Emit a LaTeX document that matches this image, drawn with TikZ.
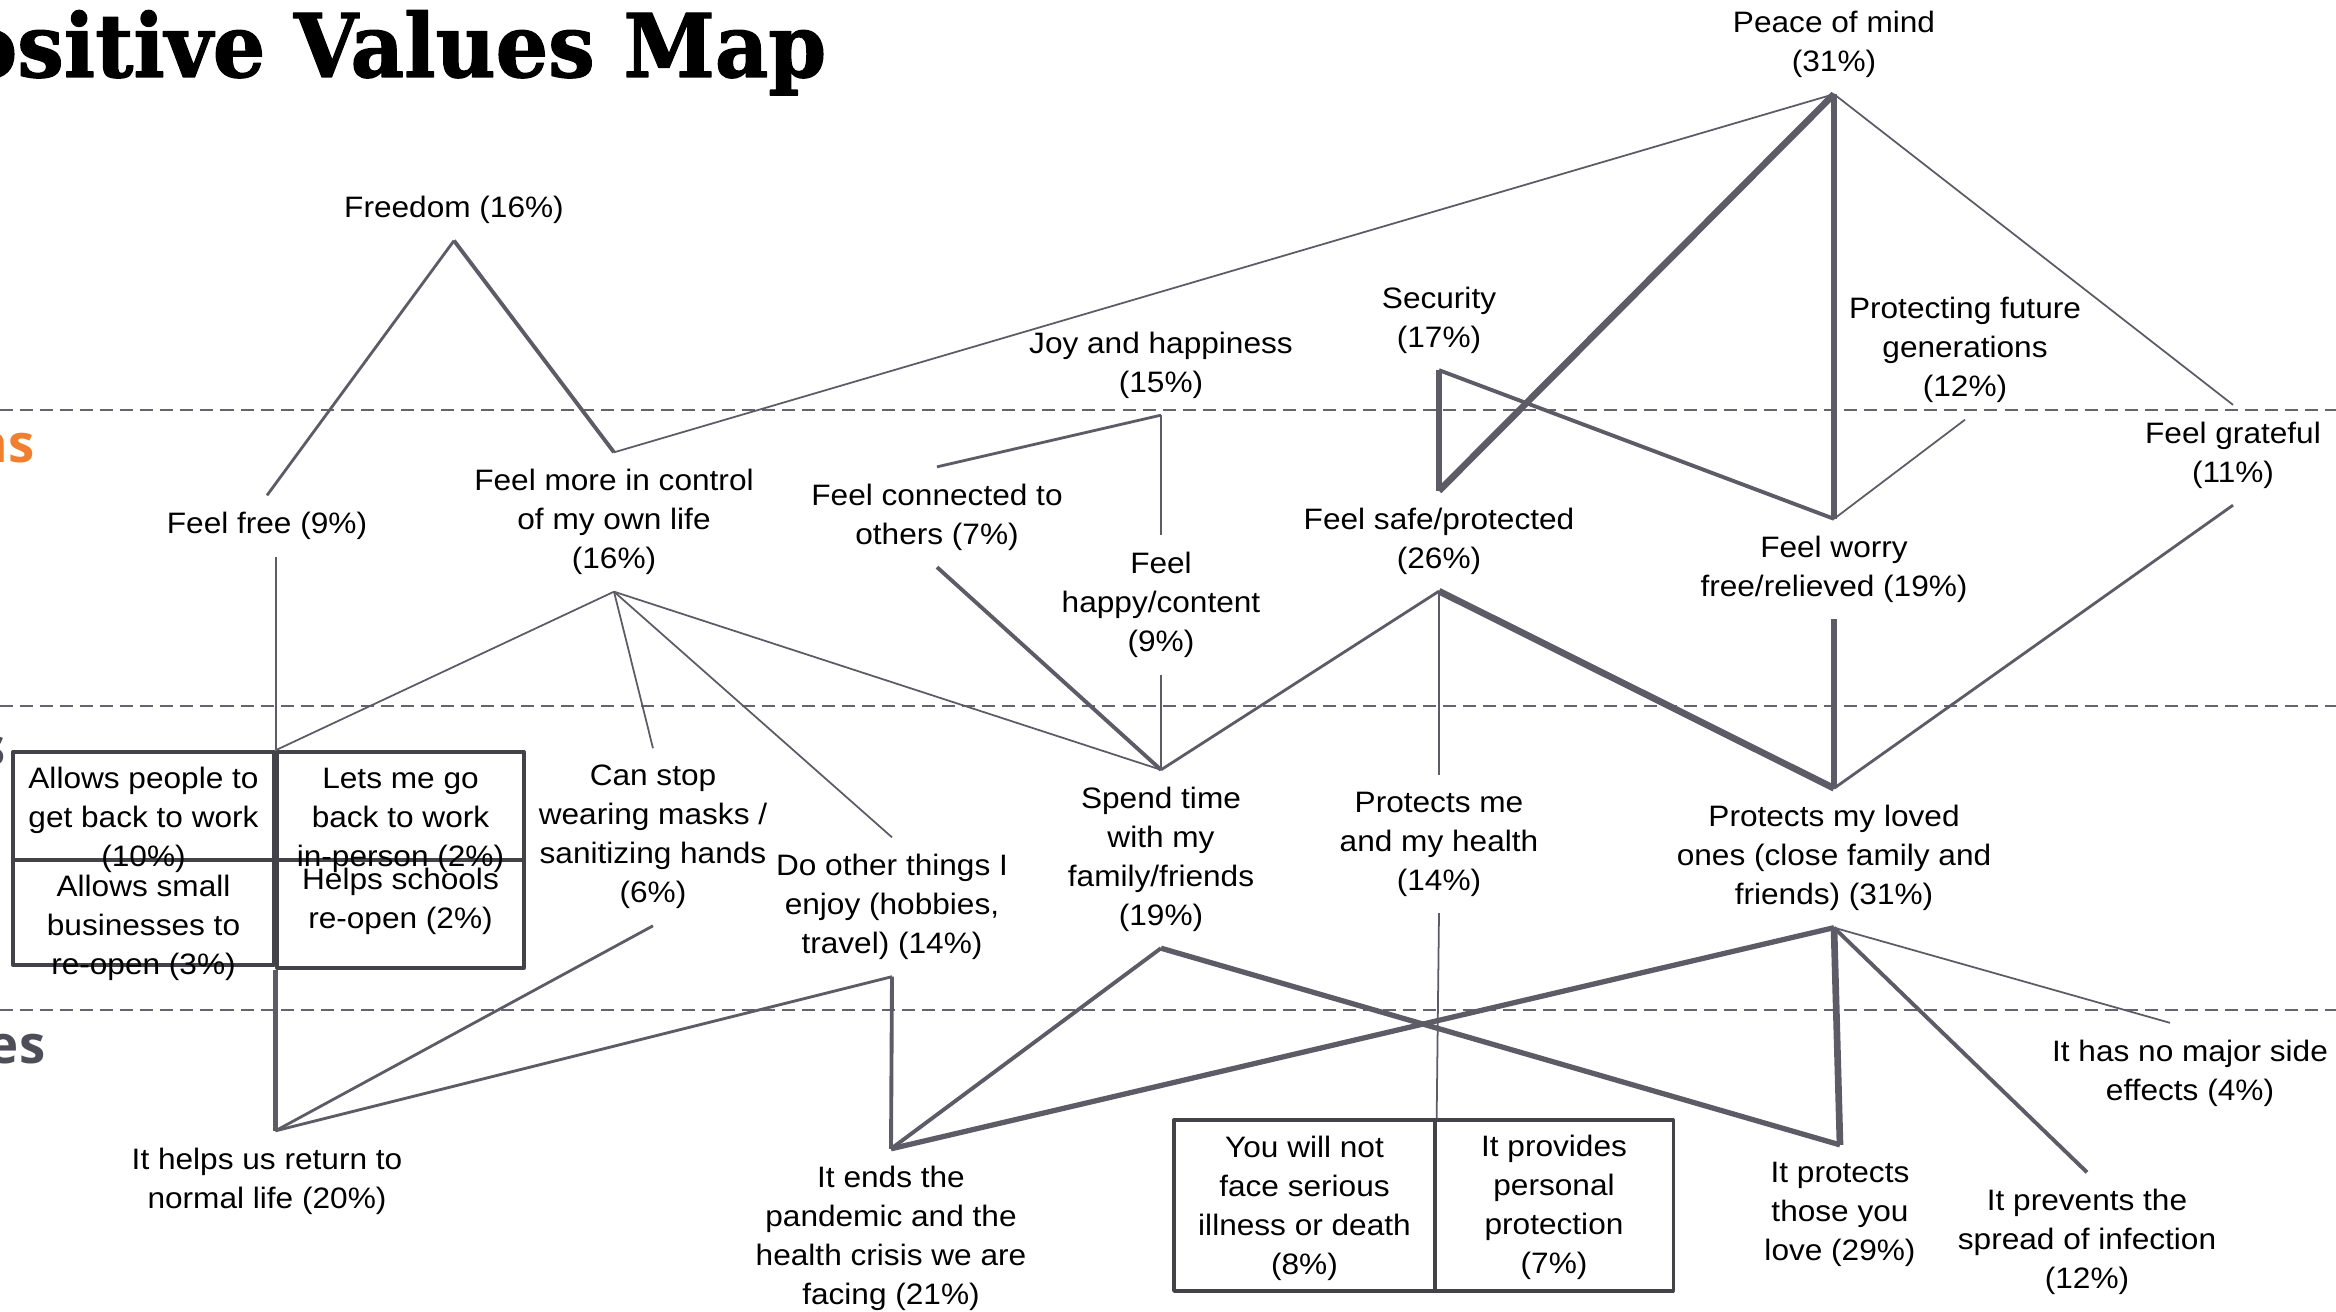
\documentclass[tikz,border=0pt]{standalone}
\usepackage{fontspec}
\setmainfont{Liberation Sans}[FakeStretch=1.07]
\newfontfamily\titlefont{DejaVu Serif}[FakeStretch=0.94,FakeBold=1.4]
\newfontfamily\sidefont{Open Sans}
\usetikzlibrary{calc}
\definecolor{edgegrey}{RGB}{92,91,102}
\definecolor{boxgrey}{RGB}{66,66,72}
\definecolor{dashgrey}{RGB}{100,100,110}
\definecolor{sideorange}{RGB}{240,128,48}
\definecolor{sidegrey}{RGB}{78,78,88}

\begin{document}
\begin{tikzpicture}[x=0.01cm,y=-0.01cm,
  lbl/.style={align=center,inner xsep=1pt,inner ysep=4.6pt,
    font=\fontsize{8.4pt}{11.1pt}\selectfont},
  abox/.style={draw=boxgrey,line width=0.9pt,fill=white,inner sep=0pt},
  side/.style={anchor=base east,inner sep=0pt,
    font=\sidefont\bfseries\fontsize{15pt}{17pt}\selectfont},
  w1/.style={draw=edgegrey,line width=0.5pt},
  w2/.style={draw=edgegrey,line width=0.8pt},
  w3/.style={draw=edgegrey,line width=1.1pt},
  w4/.style={draw=edgegrey,line width=1.5pt},
  w5/.style={draw=edgegrey,line width=1.9pt},
  line join=round]
  \useasboundingbox (0,0) rectangle (2336,1312);
  \foreach \yy in {410,706,1010}
    \draw[dashgrey,line width=0.55pt,dash pattern=on 3.7pt off 2pt](0,\yy)--(2336,\yy);

  \node[anchor=base east,inner sep=0pt,
    font=\titlefont\bfseries\fontsize{25pt}{30pt}\selectfont]
    (title) at (827,77) {Positive Values Map};
  \node[side,text=sideorange] (sidetop) at (35,462) {ns};
  \node[side,text=sidegrey] (sidemid) at (6,765) {s};
  \node[side,text=sidegrey] (sidebot) at (46,1063) {es};

  % values
  \node[lbl] (peace) at (1834,44) {Peace of mind\\(31\%)};
  \node[lbl] (freedom) at (454,210) {Freedom (16\%)};
  \node[lbl] (security) at (1439,320) {Security\\(17\%)};
  \node[lbl] (joy) at (1161,365) {Joy and happiness\\(15\%)};
  \node[lbl] (future) at (1965,350) {Protecting future\\generations\\(12\%)};
  % emotional consequences
  \node[lbl] (grateful) at (2233,455) {Feel grateful\\(11\%)};
  \node[lbl] (ffree) at (267,526) {Feel free (9\%)};
  \node[lbl] (fcontrol) at (614,522) {Feel more in control\\of my own life\\(16\%)};
  \node[lbl] (fconnect) at (937,517) {Feel connected to\\others (7\%)};
  \node[lbl] (fhappy) at (1161,605) {Feel\\happy/content\\(9\%)};
  \node[lbl] (fsafe) at (1439,541) {Feel safe/protected\\(26\%)};
  \node[lbl] (fworry) at (1834,569) {Feel worry\\free/relieved (19\%)};
  % functional consequences
  \node[abox,minimum width=2.61cm,minimum height=1.08cm] (a1) at (143.5,806) {};
  \node[abox,minimum width=2.47cm,minimum height=1.08cm] (a2) at (400.5,806) {};
  \node[abox,minimum width=2.61cm,minimum height=1.05cm] (a3) at (143.5,912.5) {};
  \node[abox,minimum width=2.47cm,minimum height=1.08cm] (a4) at (400.5,914) {};
  \node[lbl] (a1t) at (143.5,820) {Allows people to\\get back to work\\(10\%)};
  \node[lbl] (a2t) at (400.5,820) {Lets me go\\back to work\\in-person (2\%)};
  \node[lbl] (a3t) at (143.5,928) {Allows small\\businesses to\\re-open (3\%)};
  \node[lbl] (a4t) at (400.5,901) {Helps schools\\re-open (2\%)};
  \node[lbl] (canstop) at (653,837) {Can stop\\wearing masks /\\sanitizing hands\\(6\%)};
  \node[lbl] (dother) at (892,907) {Do other things I\\enjoy (hobbies,\\travel) (14\%)};
  \node[lbl] (spend) at (1161,859) {Spend time\\with my\\family/friends\\(19\%)};
  \node[lbl] (protme) at (1439,844) {Protects me\\and my health\\(14\%)};
  \node[lbl] (protloved) at (1834,858) {Protects my loved\\ones (close family and\\friends) (31\%)};
  % attributes
  \node[lbl] (nomajor) at (2190,1073) {It has no major side\\effects (4\%)};
  \node[lbl] (helps) at (267,1181) {It helps us return to\\normal life (20\%)};
  \node[lbl] (ends) at (891,1238) {It ends the\\pandemic and the\\health crisis we are\\facing (21\%)};
  \node[abox,minimum width=2.61cm,minimum height=1.71cm] (b1) at (1304.5,1205.5) {};
  \node[abox,minimum width=2.38cm,minimum height=1.71cm] (b2) at (1554,1205.5) {};
  \node[lbl] (b1t) at (1304.5,1208) {You will not\\face serious\\illness or death\\(8\%)};
  \node[lbl] (b2t) at (1554,1207) {It provides\\personal\\protection\\(7\%)};
  \node[lbl] (protects) at (1840,1214) {It protects\\those you\\love (29\%)};
  \node[lbl] (prevents) at (2087,1242) {It prevents the\\spread of infection\\(12\%)};
  \coordinate (hj) at (a4.south west |- helps.north);

  \draw[w1](peace.south)--(fcontrol.north);
  \draw[w5](peace.south)--(fsafe.north);
  \draw[w4](peace.south)--(fworry.north);
  \draw[w1](peace.south)--(grateful.north);
  \draw[w2](freedom.south)--(ffree.north);
  \draw[w3](freedom.south)--(fcontrol.north);
  \draw[w4](security.south)--(fsafe.north);
  \draw[w3](security.south)--(fworry.north);
  \draw[w2](joy.south)--(fconnect.north);
  \draw[w1](joy.south)--(fhappy.north);
  \draw[w1](future.south)--(fworry.north);

  \draw[w1](a1.north east |- ffree.south)--(a1.north east);
  \draw[w1](fcontrol.south)--(a2.north west);
  \draw[w1](fcontrol.south)--(canstop.north);
  \draw[w1](fcontrol.south)--(dother.north);
  \draw[w1](fcontrol.south)--(spend.north);
  \draw[w3](fconnect.south)--(spend.north);
  \draw[w1](fhappy.south)--(spend.north);
  \draw[w2](fsafe.south)--(spend.north);
  \draw[w2](fsafe.south)--(protme.north);
  \draw[w5](fsafe.south)--(protloved.north);
  \draw[w4](fworry.south)--(protloved.north);
  \draw[w2](grateful.south)--(protloved.north);

  \draw[w4](a4.south west)--(hj);
  \draw[w2](canstop.south)--(hj);
  \draw[w2](dother.south)--(hj);
  \draw[w3](dother.south)--(ends.north);
  \draw[w3](spend.south)--(ends.north);
  \draw[w4](spend.south)--(protects.north);
  \draw[w1](protme.south)--(b1.north east);
  \draw[w4](protloved.south)--(ends.north);
  \draw[w5](protloved.south)--(protects.north);
  \draw[w3](protloved.south)--(prevents.north);
  \draw[w1](protloved.south)--($(nomajor.north)+(-20,0)$);
\end{tikzpicture}
\end{document}
